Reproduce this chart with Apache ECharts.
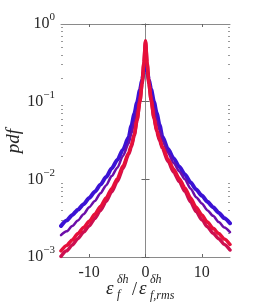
<!DOCTYPE html>
<html>
<head>
<meta charset="utf-8">
<script src="https://cdn.jsdelivr.net/npm/echarts@6/dist/echarts.min.js"></script>
<style>
html,body{margin:0;padding:0;background:#fff;}
#chart{width:254px;height:307px;}
</style>
</head>
<body>
<div id="chart"></div>
<script>
// normalized fluctuation values
const xValues = [-15,-14,-13,-12,-11,-10,-9,-8,-7,-6,-5,-4,-3,-2.5,-2,-1.5,-1,-0.6,-0.3,0,0.3,0.6,1,1.5,2,2.5,3,4,5,6,7,8,9,10,11,12,13,14,15];

const pdfBlue = [0.00251,0.00295,0.00347,0.00407,0.00479,0.00575,0.00692,0.00851,0.0107,0.0138,0.0178,0.0240,0.0347,0.0490,0.0692,0.0977,0.141,0.191,0.245,0.324,0.245,0.191,0.145,0.100,0.0708,0.0501,0.0355,0.0245,0.0186,0.0145,0.0115,0.00912,0.00741,0.00617,0.00513,0.00437,0.00372,0.00316,0.00272];

const pdfPurple = [0.00191,0.00214,0.00251,0.00295,0.00355,0.00437,0.00525,0.00661,0.00832,0.0110,0.0141,0.0200,0.0288,0.0389,0.0550,0.0794,0.123,0.182,0.269,0.437,0.269,0.186,0.126,0.0832,0.0575,0.0427,0.0316,0.0219,0.0162,0.0126,0.0100,0.00759,0.00589,0.00490,0.00398,0.00339,0.00282,0.00240,0.00209];

const pdfCrimson = [0.00102,0.00120,0.00143,0.00172,0.00209,0.00251,0.00313,0.00398,0.00519,0.00692,0.00944,0.0138,0.0209,0.0263,0.0367,0.0575,0.100,0.170,0.302,0.589,0.302,0.170,0.105,0.0617,0.0412,0.0316,0.0251,0.0170,0.0124,0.00933,0.00700,0.00513,0.00385,0.00302,0.00245,0.00202,0.00172,0.00145,0.00123];

const pdfRed = [0.00120,0.00141,0.00166,0.00200,0.00240,0.00288,0.00355,0.00447,0.00575,0.00759,0.0102,0.0148,0.0219,0.0275,0.0380,0.0589,0.100,0.174,0.316,0.610,0.316,0.174,0.105,0.0631,0.0427,0.0331,0.0263,0.0182,0.0135,0.0102,0.00776,0.00575,0.00437,0.00347,0.00282,0.00234,0.00200,0.00170,0.00145];

const xTickValues = [-10, 0, 10];
const yMajorTicks = [0.001, 0.01, 0.1, 1];
const yMinorTicks = [0.002,0.003,0.004,0.005,0.006,0.007,0.008,0.009,0.02,0.03,0.04,0.05,0.06,0.07,0.08,0.09,0.2,0.3,0.4,0.5,0.6,0.7,0.8,0.9];

const FONT = '"Liberation Serif", "DejaVu Serif", serif';
const TXT = '#262626';
const FRAME = '#8a8a8a';

function mk(arr){ return xValues.map((x,i)=>[x, arr[i]]); }

function yLabel(v){
  const e = Math.round(Math.log10(v));
  const s = e < 0 ? '\u2212' + (-e) : String(e);
  return '{b|10}{s|' + s + '}';
}

const chart = echarts.init(document.getElementById('chart'), null, {renderer:'canvas'});

const yBase = {type:'log', logBase:10, min:0.001, max:1, interval:1, splitLine:{show:false}, minorTick:{show:false}};

function lineSeries(arr, color, width){
  return {type:'line', xAxisIndex:0, yAxisIndex:0, data:mk(arr), showSymbol:false, clip:true,
    smooth:0.25, smoothMonotone:'x', lineStyle:{color:color, width:width, cap:'round', join:'round'}};
}

chart.setOption({
  animation:false,
  backgroundColor:'#fff',
  grid:{left:61, right:24, top:24, bottom:50, containLabel:false},
  xAxis:[
    {type:'value', min:-15, max:15, position:'bottom',
     axisLine:{show:true, onZero:false, lineStyle:{color:FRAME, width:1}},
     axisTick:{show:true, inside:true, length:3, customValues:xTickValues, lineStyle:{color:'#666'}},
     axisLabel:{show:true, customValues:xTickValues, margin:8, fontFamily:FONT, fontSize:16, color:TXT,
       formatter:function(v){ return String(v); }},
     splitLine:{show:false}},
    {type:'value', min:-15, max:15, position:'top',
     axisLine:{show:true, onZero:false, lineStyle:{color:FRAME, width:1}},
     axisTick:{show:true, inside:true, length:3, customValues:xTickValues, lineStyle:{color:'#666'}},
     axisLabel:{show:false}, splitLine:{show:false}}
  ],
  yAxis:[
    Object.assign({}, yBase, {position:'left',
      axisLine:{show:true, lineStyle:{color:FRAME, width:1}},
      axisTick:{show:true, inside:true, length:4, customValues:yMajorTicks, lineStyle:{color:'#666'}},
      axisLabel:{show:true, customValues:yMajorTicks, margin:6, formatter:yLabel,
        rich:{
          b:{fontFamily:FONT, fontSize:16, color:TXT, lineHeight:16, verticalAlign:'bottom'},
          s:{fontFamily:FONT, fontSize:11, color:TXT, lineHeight:11, verticalAlign:'bottom', padding:[0,0,9,0]}
        }}}),
    Object.assign({}, yBase, {position:'right',
      axisLine:{show:true, lineStyle:{color:FRAME, width:1}},
      axisTick:{show:true, inside:true, length:4, customValues:yMajorTicks, lineStyle:{color:'#666'}},
      axisLabel:{show:false}}),
    Object.assign({}, yBase, {position:'left',
      axisLine:{show:false},
      axisTick:{show:true, inside:true, length:2, customValues:yMinorTicks, lineStyle:{color:'#999'}},
      axisLabel:{show:false}}),
    Object.assign({}, yBase, {position:'right',
      axisLine:{show:false},
      axisTick:{show:true, inside:true, length:2, customValues:yMinorTicks, lineStyle:{color:'#999'}},
      axisLabel:{show:false}})
  ],
  series:[
    lineSeries(pdfBlue, '#3b12d4', 4),
    lineSeries(pdfPurple, '#6c0ea8', 2.5),
    lineSeries(pdfCrimson, '#cc1050', 3.5),
    lineSeries(pdfRed, '#e6103a', 3.5)
  ],
  graphic:[
    {type:'text', x:14, y:141, rotation:Math.PI/2,
     style:{text:'pdf', fontFamily:FONT, fontSize:19, fontStyle:'italic', fill:TXT, align:'center', verticalAlign:'middle'}},
    {type:'text', x:106, y:289, style:{text:'\u03b5', fontFamily:FONT, fontSize:19, fontStyle:'italic', fill:TXT, align:'left', verticalAlign:'middle'}},
    {type:'text', x:117, y:280, style:{text:'\u03b4h', fontFamily:FONT, fontSize:12, fontStyle:'italic', fill:TXT, align:'left', verticalAlign:'middle'}},
    {type:'text', x:117, y:295, style:{text:'f', fontFamily:FONT, fontSize:12, fontStyle:'italic', fill:TXT, align:'left', verticalAlign:'middle'}},
    {type:'text', x:132, y:290, style:{text:'/', fontFamily:FONT, fontSize:18, fill:TXT, align:'left', verticalAlign:'middle'}},
    {type:'text', x:139, y:289, style:{text:'\u03b5', fontFamily:FONT, fontSize:19, fontStyle:'italic', fill:TXT, align:'left', verticalAlign:'middle'}},
    {type:'text', x:150, y:280, style:{text:'\u03b4h', fontFamily:FONT, fontSize:12, fontStyle:'italic', fill:TXT, align:'left', verticalAlign:'middle'}},
    {type:'text', x:150, y:296, style:{text:'f,rms', fontFamily:FONT, fontSize:12, fontStyle:'italic', fill:TXT, align:'left', verticalAlign:'middle'}}
  ]
});
</script>
</body>
</html>
